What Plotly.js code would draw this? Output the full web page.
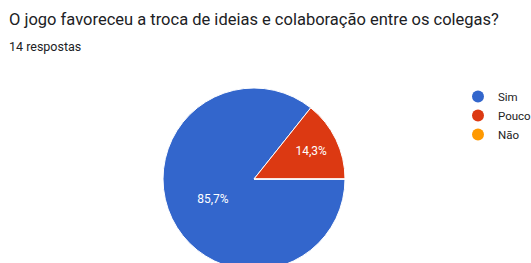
<!DOCTYPE html>
<html>
<head>
<meta charset="utf-8">
<script src="https://cdn.plot.ly/plotly-3.0.1.min.js"></script>
<style>
html,body{margin:0;padding:0;overflow:hidden;background:#fff;}
#chart{width:600px;height:300px;}
</style>
</head>
<body>
<div id="chart"></div>
<script>
var categories = ["Sim", "Pouco", "Não"];
var counts = [12, 2, 0];
var colors = ["#3366cc", "#dc3912", "#ff9900"];
var titleText = "O jogo favoreceu a troca de ideias e colaboração entre os colegas?";
var subtitleText = "14 respostas";

var W = 600, H = 300;
var cx = 254, cy = 179, R = 91;

var pie = {
  type: "pie",
  labels: categories,
  values: counts,
  sort: false,
  direction: "clockwise",
  rotation: 90,
  marker: {colors: colors, line: {color: "#ffffff", width: 1}},
  textinfo: "percent",
  textposition: "inside",
  insidetextorientation: "horizontal",
  textfont: {family: "Roboto, Arial, sans-serif", size: 12, color: "#ffffff"},
  showlegend: false,
  hoverinfo: "none",
  domain: {x: [(cx - R) / W, (cx + R) / W], y: [(H - cy - R) / H, (H - cy + R) / H]}
};

var legendTraces = categories.map(function (c, i) {
  return {
    type: "scatter", mode: "markers", x: [null], y: [null], name: c,
    marker: {color: colors[i], size: 12, symbol: "circle"}, hoverinfo: "none"
  };
});

var layout = {
  width: W, height: H,
  margin: {l: 0, r: 0, t: 0, b: 0},
  paper_bgcolor: "#ffffff", plot_bgcolor: "#ffffff",
  separators: ",.",
  font: {family: "Roboto, Arial, sans-serif", color: "#202124"},
  xaxis: {visible: false}, yaxis: {visible: false},
  showlegend: true,
  legend: {
    x: 458 / W, xanchor: "left", y: 1 - 82 / H, yanchor: "top",
    font: {family: "Roboto, Arial, sans-serif", size: 11.5, color: "#222222"},
    bgcolor: "rgba(0,0,0,0)", itemclick: false
  },
  annotations: [
    {text: titleText, xref: "paper", yref: "paper", x: 7 / W, y: 1 - 19 / H,
     xanchor: "left", yanchor: "middle", showarrow: false,
     font: {family: "Roboto, Arial, sans-serif", size: 16.5, color: "#202124"}},
    {text: subtitleText, xref: "paper", yref: "paper", x: 7 / W, y: 1 - 46 / H,
     xanchor: "left", yanchor: "middle", showarrow: false,
     font: {family: "Roboto, Arial, sans-serif", size: 12.5, color: "#202124"}}
  ]
};

Plotly.newPlot("chart", legendTraces.concat([pie]), layout, {staticPlot: true, displayModeBar: false});
</script>
</body>
</html>
